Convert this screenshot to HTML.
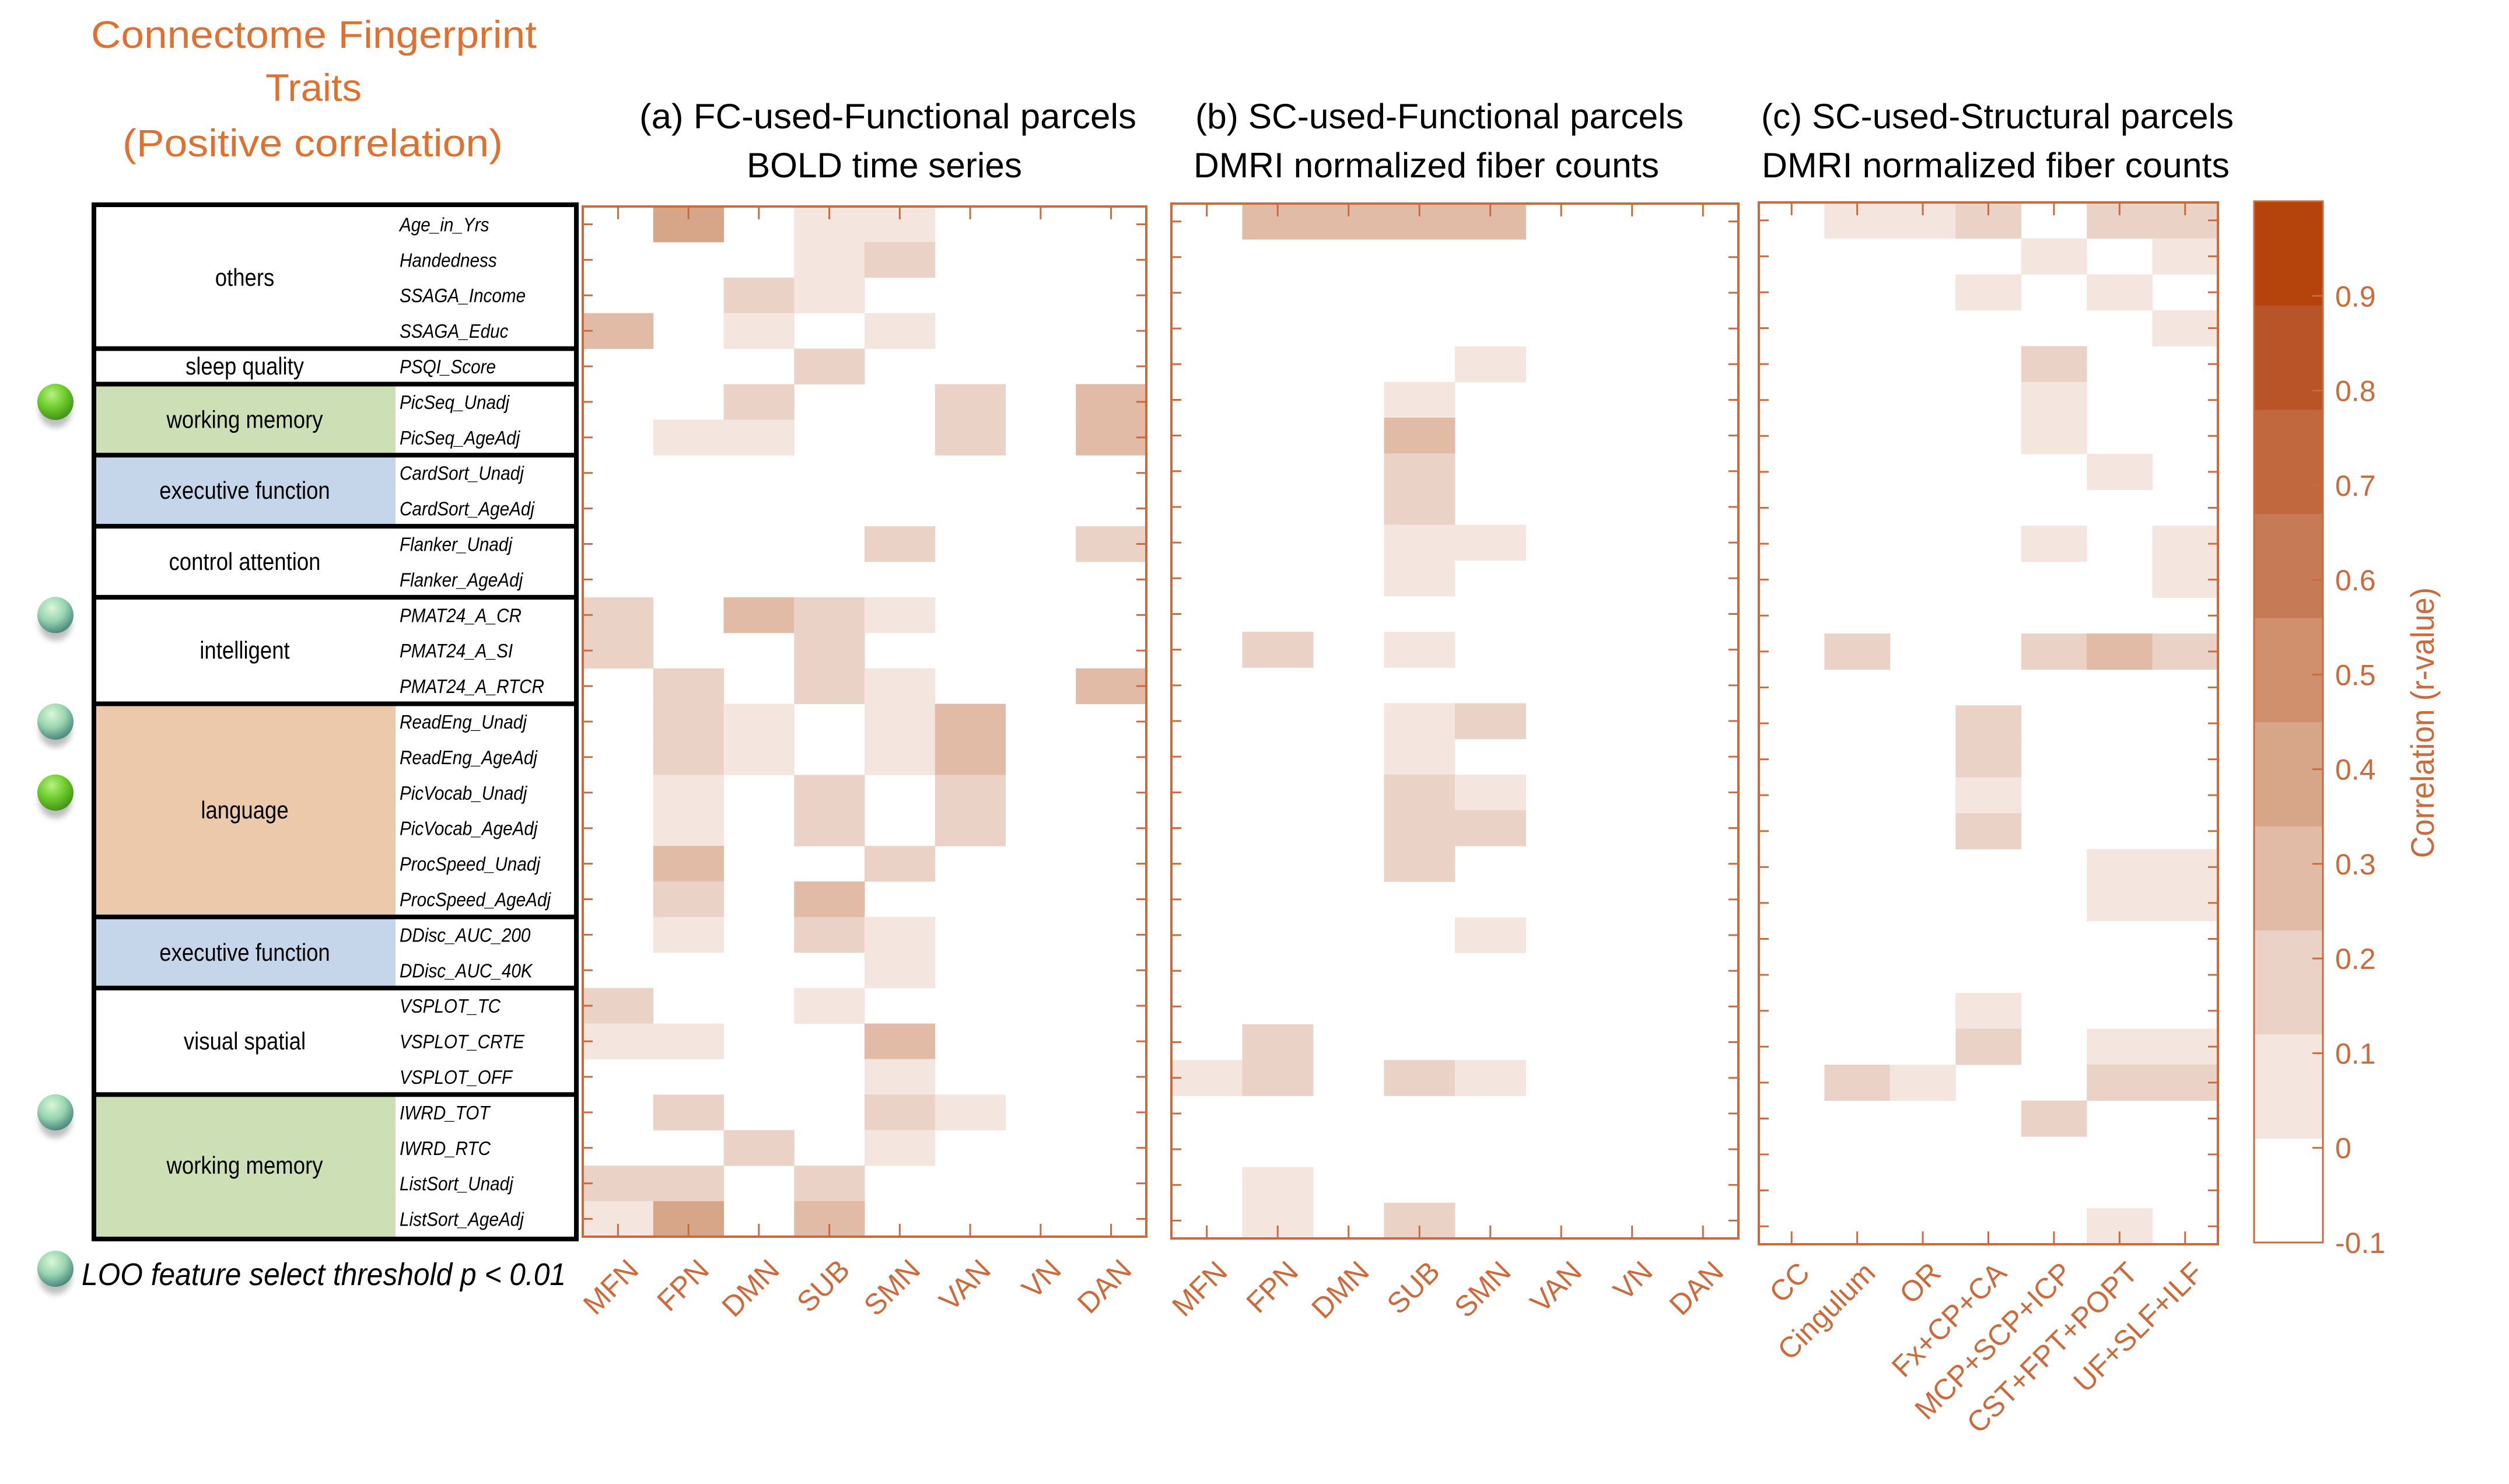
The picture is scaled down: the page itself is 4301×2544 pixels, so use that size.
<!DOCTYPE html>
<html><head><meta charset="utf-8">
<style>
html,body{margin:0;padding:0;background:#fff;}
svg{display:block;}
</style></head>
<body>
<svg id="fig" xmlns="http://www.w3.org/2000/svg" width="4301" height="2544" viewBox="0 0 4301 2544">
<defs>
 <radialGradient id="gball" cx="0.4" cy="0.3" r="0.75">
  <stop offset="0" stop-color="#b8f080"/><stop offset="0.5" stop-color="#6ccc2c"/><stop offset="1" stop-color="#3e8c14"/>
 </radialGradient>
 <radialGradient id="tball" cx="0.4" cy="0.3" r="0.75">
  <stop offset="0" stop-color="#d8f8d8"/><stop offset="0.5" stop-color="#9ad4b0"/><stop offset="1" stop-color="#3f7f78"/>
 </radialGradient>
 <filter id="sh" x="-50%" y="-50%" width="200%" height="200%"><feGaussianBlur stdDeviation="5"/></filter>
</defs>
<g id="titles" font-family="'Liberation Sans', sans-serif">
 <text x="156" y="82" font-size="66" fill="#e0702f" textLength="764" lengthAdjust="spacingAndGlyphs">Connectome Fingerprint</text>
 <text x="455" y="173" font-size="66" fill="#e0702f" textLength="165" lengthAdjust="spacingAndGlyphs">Traits</text>
 <text x="210" y="268" font-size="66" fill="#e0702f" textLength="652" lengthAdjust="spacingAndGlyphs">(Positive correlation)</text>
 <text x="1096" y="220" font-size="60" textLength="852" lengthAdjust="spacingAndGlyphs">(a) FC-used-Functional parcels</text>
 <text x="1280" y="304" font-size="60" textLength="472" lengthAdjust="spacingAndGlyphs">BOLD time series</text>
 <text x="2049" y="220" font-size="60" textLength="837" lengthAdjust="spacingAndGlyphs">(b) SC-used-Functional parcels</text>
 <text x="2046" y="304" font-size="60" textLength="798" lengthAdjust="spacingAndGlyphs">DMRI normalized fiber counts</text>
 <text x="3019" y="220" font-size="60" textLength="810" lengthAdjust="spacingAndGlyphs">(c) SC-used-Structural parcels</text>
 <text x="3020" y="304" font-size="60" textLength="802" lengthAdjust="spacingAndGlyphs">DMRI normalized fiber counts</text>
 <text x="140" y="2203" font-size="54" font-style="italic" textLength="830" lengthAdjust="spacingAndGlyphs">LOO feature select threshold p &lt; 0.01</text>
</g>
<g id="table"></g>
<g id="balls"></g>
<g id="panels"></g>
<g id="cbar"></g>
</svg>
<script>
// ---------- data ----------
const traits = ["Age_in_Yrs","Handedness","SSAGA_Income","SSAGA_Educ","PSQI_Score","PicSeq_Unadj","PicSeq_AgeAdj","CardSort_Unadj","CardSort_AgeAdj","Flanker_Unadj","Flanker_AgeAdj","PMAT24_A_CR","PMAT24_A_SI","PMAT24_A_RTCR","ReadEng_Unadj","ReadEng_AgeAdj","PicVocab_Unadj","PicVocab_AgeAdj","ProcSpeed_Unadj","ProcSpeed_AgeAdj","DDisc_AUC_200","DDisc_AUC_40K","VSPLOT_TC","VSPLOT_CRTE","VSPLOT_OFF","IWRD_TOT","IWRD_RTC","ListSort_Unadj","ListSort_AgeAdj"];
const groupNames = ["others","sleep quality","working memory","executive function","control attention","intelligent","language","executive function","visual spatial","working memory"];
const groupStart = [0,4,5,7,9,11,14,20,22,25];
const groupEnd   = [4,5,7,9,11,14,20,22,25,29];
const groupFill  = ["#ffffff","#ffffff","#cddfb4","#c5d5ea","#ffffff","#ffffff","#ebc9aa","#c5d5ea","#ffffff","#cddfb4"];
const ballRows   = [5.5,11.5,14.5,16.5,25.5];
const ballKind   = ["g","t","t","g","t"];

const colsA = ["MFN","FPN","DMN","SUB","SMN","VAN","VN","DAN"];
const colsB = ["MFN","FPN","DMN","SUB","SMN","VAN","VN","DAN"];
const colsC = ["CC","Cingulum","OR","Fx+CP+CA","MCP+SCP+ICP","CST+FPT+POPT","UF+SLF+ILF"];
// [row, col, r-value]
const cellsA = [[0,1,0.36],[0,3,0.05],[0,4,0.05],[1,3,0.05],[1,4,0.15],[2,2,0.15],[2,3,0.05],[3,0,0.28],[3,2,0.05],[3,4,0.05],[4,3,0.15],
 [5,2,0.15],[5,5,0.15],[5,7,0.28],[6,1,0.05],[6,2,0.05],[6,5,0.15],[6,7,0.28],[9,4,0.15],[9,7,0.15],
 [11,0,0.15],[11,2,0.28],[11,3,0.15],[11,4,0.05],[12,0,0.15],[12,3,0.15],[13,1,0.15],[13,3,0.15],[13,4,0.05],[13,7,0.28],
 [14,1,0.15],[14,2,0.05],[14,4,0.05],[14,5,0.25],[15,1,0.15],[15,2,0.05],[15,4,0.05],[15,5,0.25],
 [16,1,0.05],[16,3,0.15],[16,5,0.15],[17,1,0.05],[17,3,0.15],[17,5,0.15],[18,1,0.26],[18,4,0.15],[19,1,0.15],[19,3,0.26],
 [20,1,0.05],[20,3,0.15],[20,4,0.05],[21,4,0.05],[22,0,0.15],[22,3,0.05],[23,0,0.05],[23,1,0.05],[23,4,0.26],[24,4,0.05],
 [25,1,0.15],[25,4,0.15],[25,5,0.05],[26,2,0.15],[26,4,0.05],[27,0,0.15],[27,1,0.15],[27,3,0.15],[28,0,0.05],[28,1,0.36],[28,3,0.26]];
const cellsB = [[0,1,0.26],[0,2,0.26],[0,3,0.26],[0,4,0.26],[4,4,0.05],[5,3,0.05],[6,3,0.28],[7,3,0.15],[8,3,0.15],[9,3,0.05],[9,4,0.05],[10,3,0.05],
 [12,1,0.15],[12,3,0.05],[14,3,0.05],[14,4,0.15],[15,3,0.05],[16,3,0.15],[16,4,0.05],[17,3,0.15],[17,4,0.15],[18,3,0.15],[20,4,0.05],
 [23,1,0.15],[24,0,0.05],[24,1,0.15],[24,3,0.15],[24,4,0.05],[27,1,0.05],[28,1,0.05],[28,3,0.15]];
const cellsC = [[0,1,0.05],[0,2,0.05],[0,3,0.15],[0,5,0.15],[0,6,0.15],[1,4,0.05],[1,6,0.05],[2,3,0.05],[2,5,0.05],[3,6,0.05],[4,4,0.15],[5,4,0.05],[6,4,0.05],
 [7,5,0.05],[9,4,0.05],[9,6,0.05],[10,6,0.05],[12,1,0.15],[12,4,0.15],[12,5,0.26],[12,6,0.15],[14,3,0.15],[15,3,0.15],[16,3,0.05],[17,3,0.15],
 [18,5,0.05],[18,6,0.05],[19,5,0.05],[19,6,0.05],[22,3,0.05],[23,3,0.15],[23,5,0.05],[23,6,0.05],[24,1,0.15],[24,2,0.05],[24,5,0.15],[24,6,0.15],[25,4,0.15],[28,5,0.05]];
const cbarTicks = [-0.1,0,0.1,0.2,0.3,0.4,0.5,0.6,0.7,0.8,0.9];
const cbarColors = ["#ffffff","#f4e6de","#ead3c6","#e1bba6","#d7a688","#d0906e","#c77a56","#c2683e","#b85427","#b4440c"];

// ---------- helpers ----------
const NS="http://www.w3.org/2000/svg";
function mk(tag, attrs, parent){const e=document.createElementNS(NS,tag);for(const k in attrs)e.setAttribute(k,attrs[k]);parent.appendChild(e);return e;}
const AX="#cc6a3c";
const VMIN=-0.1, VMAX=1.0;
function colorOf(v){let i=Math.floor((v-VMIN)/((VMAX-VMIN)/cbarColors.length));i=Math.max(0,Math.min(cbarColors.length-1,i));return cbarColors[i];}

// ---------- table ----------
const tbl=document.getElementById('table');
const TY0=354, TRH=(2120-354)/29, TX0=161, TX1=988, TCAT=678;
function ty(r){return TY0+r*TRH;}
for(let g=0;g<groupNames.length;g++){
  const y0=ty(groupStart[g]), y1=ty(groupEnd[g]);
  const r=mk('rect',{x:TX0,y:y0,width:TCAT-TX0,height:y1-y0,fill:groupFill[g]},tbl);
  
  
  const t=mk('text',{x:0,y:0,'font-family':"'Liberation Sans', sans-serif",'font-size':42,'text-anchor':'middle',transform:`translate(${(TX0+TCAT)/2},${(y0+y1)/2+14}) scale(0.87,1)`},tbl);
  t.textContent=groupNames[g];
  
  
}
traits.forEach((n,i)=>{
  const t=mk('text',{x:0,y:0,'font-family':"'Liberation Sans', sans-serif",'font-size':33,'font-style':'italic',transform:`translate(685,${ty(i)+TRH/2+12}) scale(0.9,1)`},tbl);
  t.textContent=n;
  
  
});
for(let g=1;g<groupNames.length;g++){
  const l=mk('line',{x1:TX0,x2:TX1,y1:ty(groupStart[g]),y2:ty(groupStart[g]),stroke:'#000','stroke-width':8},tbl);
  
  
}
const ob=mk('rect',{x:TX0,y:TY0-3,width:TX1-TX0,height:2127-TY0,fill:'none',stroke:'#000','stroke-width':8},tbl);



// ---------- balls ----------
const bg=document.getElementById('balls');
function ball(cx,cy,kind,name){
  mk('ellipse',{cx:cx,cy:cy+14,rx:28,ry:30,fill:'#000',opacity:0.25,filter:'url(#sh)'},bg);
  const c=mk('circle',{cx:cx,cy:cy,r:31,fill:kind==='g'?'url(#gball)':'url(#tball)'},bg);
  
  
}
ballRows.forEach((r,i)=>ball(95,ty(r),ballKind[i],'significance-marker'));
ball(95,2175,'t','legend-marker');

// ---------- panels ----------
const pg=document.getElementById('panels');
function panel(name,x0,x1,y0,y1,cols,cells,labelDx,labelDy){
  const g=mk('g',{},pg);
  
  
  const nR=traits.length, nC=cols.length;
  const cw=(x1-x0)/nC, rh=(y1-y0)/nR;
  const xs=c=>x0+c*cw, ys=r=>y0+r*rh;
  cells.forEach(([r,c,v])=>{
    const rc=mk('rect',{x:xs(c),y:ys(r),width:cw+0.5,height:rh+0.5,fill:colorOf(v)},g);
    
    
  });
  for(let r=0;r<nR;r++){
    const yc=ys(r+0.5);
    mk('line',{x1:x0,x2:x0+17,y1:yc,y2:yc,stroke:AX,'stroke-width':3},g);
    mk('line',{x1:x1-17,x2:x1,y1:yc,y2:yc,stroke:AX,'stroke-width':3},g);
  }
  cols.forEach((cn,c)=>{
    const xc=xs(c+0.5);
    mk('line',{x1:xc,x2:xc,y1:y0,y2:y0+22,stroke:AX,'stroke-width':3},g);
    mk('line',{x1:xc,x2:xc,y1:y1-22,y2:y1,stroke:AX,'stroke-width':3},g);
    const t=mk('text',{x:0,y:0,'font-family':"'Liberation Sans', sans-serif",'font-size':50,fill:AX,'text-anchor':'end',transform:`translate(${xc+labelDx},${y1+labelDy}) rotate(-45)`},g);
    t.textContent=cn;
    
    
  });
  const fr=mk('rect',{x:x0,y:y0,width:x1-x0,height:y1-y0,fill:'none',stroke:AX,'stroke-width':4},g);
  
  
}
panel('panel-a-heatmap',999,1965,354,2120,colsA,cellsA,38,60);
panel('panel-b-heatmap',2008,2980,349,2123,colsB,cellsB,38,60);
panel('panel-c-heatmap',3015,3802,347,2133,colsC,cellsC,34,52);

// ---------- colorbar ----------
const cb=document.getElementById('cbar');
const CX0=3864, CX1=3982, CY0=345, CY1=2130;
const cy=v=>CY1-(v-VMIN)/(VMAX-VMIN)*(CY1-CY0);
const binW=(VMAX-VMIN)/cbarColors.length;
cbarColors.forEach((col,i)=>{
  const a=VMIN+i*binW, b=a+binW;
  const r=mk('rect',{x:CX0,y:cy(b),width:CX1-CX0,height:cy(a)-cy(b)+0.5,fill:col},cb);
  
  
});
mk('rect',{x:CX0,y:CY0,width:CX1-CX0,height:CY1-CY0,fill:'none',stroke:AX,'stroke-width':3},cb);
cbarTicks.forEach(v=>{
  const y=cy(v);
  mk('line',{x1:CX1-18,x2:CX1,y1:y,y2:y,stroke:AX,'stroke-width':3},cb);
  const t=mk('text',{x:4003,y:y+18,'font-family':"'Liberation Sans', sans-serif",'font-size':50,fill:AX},cb);
  t.textContent=String(v);
  
  
});
const ct=mk('text',{x:0,y:0,'font-family':"'Liberation Sans', sans-serif",'font-size':56,fill:AX,'text-anchor':'middle',textLength:464,lengthAdjust:'spacingAndGlyphs',transform:'translate(4172,1239) rotate(-90)'},cb);
ct.textContent='Correlation (r-value)';


</script>
</body></html>
